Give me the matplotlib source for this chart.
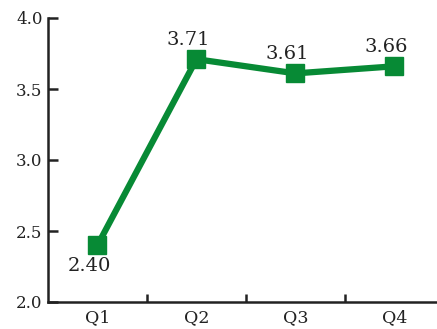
import numpy as np
import matplotlib
matplotlib.use('Agg')
import matplotlib.pyplot as plt

plt.rcParams['font.family'] = ['DejaVu Serif']

quarters = ['Q1', 'Q2', 'Q3', 'Q4']
values = [2.40, 3.71, 3.61, 3.66]
label_pos = ['below', 'above', 'above', 'above']

green = '#078a35'
dark = '#222222'

fig = plt.figure(figsize=(4.37, 3.29), dpi=100)
ax = fig.add_axes([48 / 437, 27 / 329, 389 / 437, 284 / 329])

x = np.arange(len(quarters))
ax.plot(x, values, '-s', color=green, lw=4.5, ms=13, clip_on=False)

for xi, v, pos in zip(x, values, label_pos):
    dy = 14 if pos == 'above' else -15
    ax.annotate('%.2f' % v, xy=(xi, v), xytext=(-6, dy), textcoords='offset points',
                ha='center', va='center', fontsize=14, color=dark)

ax.set_xlim(-0.5, 3.43)
ax.set_ylim(2.0, 4.0)
ax.set_yticks([2.0, 2.5, 3.0, 3.5, 4.0])
ax.set_yticklabels(['2.0', '2.5', '3.0', '3.5', '4.0'])
ax.set_xticks(x)
ax.set_xticklabels(quarters)
ax.set_xticks([0.5, 1.5, 2.5], minor=True)

for s in ['top', 'right']:
    ax.spines[s].set_visible(False)
for s in ['left', 'bottom']:
    ax.spines[s].set_color(dark)
    ax.spines[s].set_linewidth(1.8)

ax.tick_params(axis='y', direction='in', length=7, width=1.8, color=dark,
               labelsize=12, labelcolor=dark, pad=4)
ax.tick_params(axis='x', which='major', length=0, labelsize=12.5, labelcolor=dark, pad=5)
ax.tick_params(axis='x', which='minor', direction='in', length=6, width=1.8, color=dark)

fig.savefig('out.png', dpi=100)
